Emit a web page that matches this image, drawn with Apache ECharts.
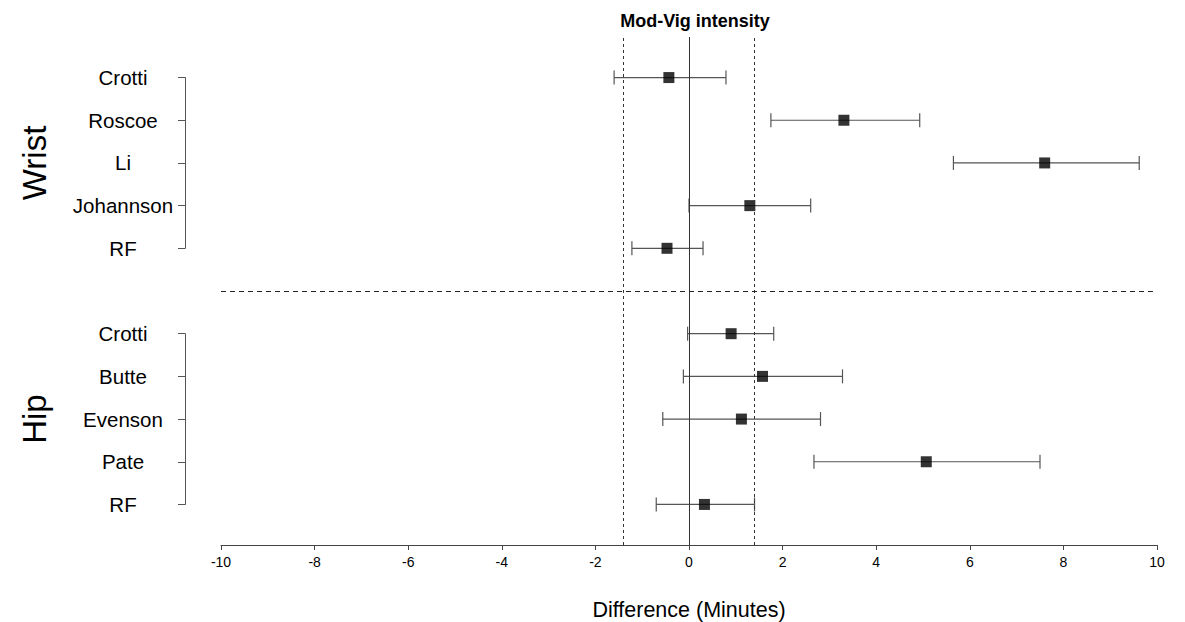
<!DOCTYPE html>
<html><head><meta charset="utf-8">
<script src="https://cdn.jsdelivr.net/npm/echarts@6/dist/echarts.min.js"></script>
<style>html,body{margin:0;padding:0;background:#fff}#c{width:1185px;height:622px}</style>
</head><body><div id="c"></div>
<script>
var chartTitle = 'Mod-Vig intensity';
var xName = 'Difference (Minutes)';
var groupNames = ['Wrist', 'Hip'];
var wristStudies = ['Crotti', 'Roscoe', 'Li', 'Johannson', 'RF'];
var wristMean = [-0.43, 3.31, 7.6, 1.3, -0.47];
var wristLow = [-1.6, 1.75, 5.65, 0.0, -1.22];
var wristHigh = [0.79, 4.93, 9.62, 2.6, 0.3];
var hipStudies = ['Crotti', 'Butte', 'Evenson', 'Pate', 'RF'];
var hipMean = [0.9, 1.57, 1.12, 5.07, 0.33];
var hipLow = [-0.03, -0.12, -0.56, 2.67, -0.7];
var hipHigh = [1.81, 3.28, 2.81, 7.5, 1.4];
var equivBound = 1.4;

var FONT = '"Liberation Sans", Arial, sans-serif';
var n = wristStudies.length;
var rows = [];
wristStudies.forEach(function (s, i) { rows.push([wristMean[i], 2 * n + 1 - i, wristLow[i], wristHigh[i]]); });
hipStudies.forEach(function (s, i) { rows.push([hipMean[i], n - i, hipLow[i], hipHigh[i]]); });

var chart = echarts.init(document.getElementById('c'), null, { renderer: 'svg' });
var gridTop = 37, gridH = 508, yMin = 0.05, yMax = 2 * n + 1.95;
var pxPer = gridH / (yMax - yMin);
function yPix(v) { return gridTop + (yMax - v) * pxPer; }

function groupAxis(idx, names, title) {
  return {
    gridIndex: idx, type: 'category', data: names, inverse: true, boundaryGap: false,
    name: title, nameLocation: 'middle', nameGap: 134, nameRotate: 90,
    nameTextStyle: { fontFamily: FONT, fontSize: 33, color: '#000' },
    axisLine: { show: true, lineStyle: { color: '#555', width: 1 } },
    axisTick: { show: true, length: 7, lineStyle: { color: '#555' } },
    axisLabel: { fontFamily: FONT, fontSize: 20.5, color: '#000', align: 'center', margin: 62 }
  };
}

var option = {
  animation: false,
  backgroundColor: '#fff',
  title: {
    text: chartTitle, left: 690, top: 7, textAlign: 'center',
    textStyle: { fontFamily: FONT, fontSize: 18, fontWeight: 'bold', color: '#000' }
  },
  grid: [
    { left: 221, right: 28, top: gridTop, height: gridH, outerBoundsMode: 'none', containLabel: false },
    { left: 185, width: 1, top: yPix(2 * n + 1), height: yPix(n + 2) - yPix(2 * n + 1), outerBoundsMode: 'none', containLabel: false },
    { left: 185, width: 1, top: yPix(n), height: yPix(1) - yPix(n), outerBoundsMode: 'none', containLabel: false }
  ],
  xAxis: [
    {
      gridIndex: 0, type: 'value', min: -10, max: 10, interval: 2,
      name: xName, nameLocation: 'middle', nameGap: 54,
      nameTextStyle: { fontFamily: FONT, fontSize: 21.5, color: '#000' },
      axisLine: { show: true, lineStyle: { color: '#444', width: 1 } },
      axisTick: { show: true, length: 5, lineStyle: { color: '#444' } },
      axisLabel: { fontFamily: FONT, fontSize: 14, color: '#000', margin: 10 },
      splitLine: { show: false }
    },
    { gridIndex: 1, type: 'value', show: false },
    { gridIndex: 2, type: 'value', show: false }
  ],
  yAxis: [
    { gridIndex: 0, type: 'value', min: yMin, max: yMax, show: false },
    groupAxis(1, wristStudies, groupNames[0]),
    groupAxis(2, hipStudies, groupNames[1])
  ],
  series: [
    {
      type: 'custom', xAxisIndex: 0, yAxisIndex: 0, data: rows, z: 3,
      renderItem: function (params, api) {
        var lo = api.coord([api.value(2), api.value(1)]);
        var hi = api.coord([api.value(3), api.value(1)]);
        var st = { stroke: '#555', lineWidth: 1.2 };
        var cap = 7;
        return {
          type: 'group', children: [
            { type: 'line', shape: { x1: lo[0], y1: lo[1], x2: hi[0], y2: hi[1] }, style: st },
            { type: 'line', shape: { x1: lo[0], y1: lo[1] - cap, x2: lo[0], y2: lo[1] + cap }, style: st },
            { type: 'line', shape: { x1: hi[0], y1: hi[1] - cap, x2: hi[0], y2: hi[1] + cap }, style: st }
          ]
        };
      },
      encode: { x: [0, 2, 3], y: 1 },
      markLine: {
        silent: true, symbol: 'none', label: { show: false },
        data: [
          { xAxis: 0, lineStyle: { type: 'solid', color: '#333', width: 1 } },
          { xAxis: -equivBound, lineStyle: { type: [3, 3], color: '#333', width: 1 } },
          { xAxis: equivBound, lineStyle: { type: [3, 3], color: '#333', width: 1 } },
          { yAxis: n + 1, lineStyle: { type: [5, 4], color: '#222', width: 1.2 } }
        ]
      }
    },
    {
      type: 'scatter', xAxisIndex: 0, yAxisIndex: 0, z: 4,
      data: rows.map(function (r) { return [r[0], r[1]]; }),
      symbol: 'rect', symbolSize: 11,
      itemStyle: { color: '#000' }
    }
  ]
};
chart.setOption(option);
</script></body></html>
